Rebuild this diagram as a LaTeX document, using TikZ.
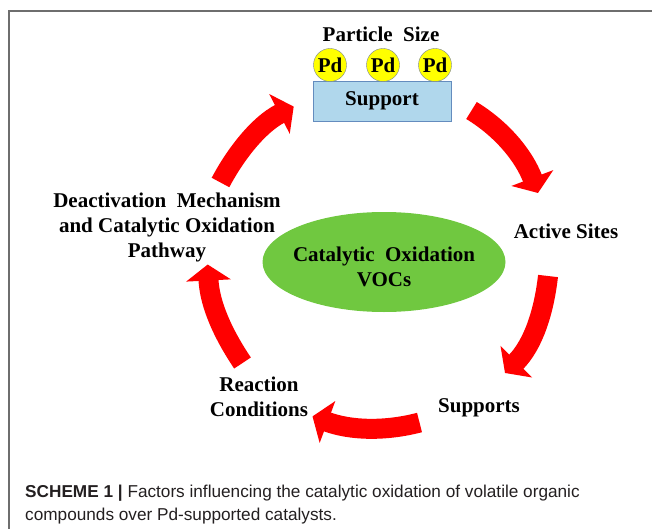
\documentclass[tikz,border=0pt]{standalone}
\usepackage{fontspec}
\setmainfont{Liberation Serif}
\newfontfamily\capfont{Liberation Sans}
\usetikzlibrary{arrows.meta,shapes.geometric}

\definecolor{framegray}{RGB}{110,110,110}
\definecolor{pdyellow}{RGB}{255,255,0}
\definecolor{pdedge}{RGB}{120,130,150}
\definecolor{supblue}{RGB}{176,215,236}
\definecolor{supedge}{RGB}{100,140,190}
\definecolor{vocgreen}{RGB}{112,200,64}
\definecolor{captext}{RGB}{35,31,32}

\tikzset{
  lbl/.style={font=\fontsize{21}{25}\selectfont\bfseries, align=center, inner sep=0pt},
  pdball/.style={circle, draw=pdedge, fill=pdyellow, minimum size=33pt, inner sep=0pt,
    font=\fontsize{21}{25}\selectfont\bfseries},
  cyc/.style={red, line width=20pt, -{Triangle[width=44pt,length=16pt]}},
}

\begin{document}
\begin{tikzpicture}[x=1pt,y=1pt,yscale=-1]
\useasboundingbox (0,0) rectangle (652,529);

% frame
\draw[framegray, line width=1.5pt] (652,11) -- (9,11) -- (9,529);

% support with Pd particles
\node[lbl] (psize) at (381,34) {Particle\ \ Size};
\node[draw=supedge, fill=supblue, minimum width=138pt, minimum height=40pt, lbl] (supp) at (382,101) {Support};
\node[pdball] (pd1) at (330,65) {Pd};
\node[pdball] (pd2) at (383,65) {Pd};
\node[pdball] (pd3) at (435,65) {Pd};

% centre
\node[ellipse, fill=vocgreen, minimum width=243pt, minimum height=100pt] (voc) at (384,262) {};
\node[lbl] (voct) at (384,267) {Catalytic\ \ Oxidation\\VOCs};

% factors
\node[lbl] (act) at (566,231) {Active Sites};
\node[lbl] (spts) at (479,408) {Supports};
\node[lbl] (reac) at (259,397) {Reaction\\Conditions};
\node[lbl] (deact) at (167,227) {Deactivation\ \ Mechanism\\and Catalytic Oxidation\\Pathway};

% cycle arrows
\coordinate (a1s) at (220.5,182.5); \coordinate (a1e) at (293.7,106.6);
\coordinate (a2s) at (471.5,110.5); \coordinate (a2e) at (538,193);
\coordinate (a3s) at (548,276);     \coordinate (a3e) at (505,373);
\coordinate (a4s) at (419.5,422.5); \coordinate (a4e) at (312.5,416.4);
\coordinate (a5s) at (242.5,363);   \coordinate (a5e) at (207.7,264.5);
\draw[cyc] (a1s) .. controls (235,155) and (258,125) .. (a1e);
\draw[cyc] (a2s) .. controls (502,129) and (524,156) .. (a2e);
\draw[cyc] (a3s) .. controls (544,312) and (533,345) .. (a3e);
\draw[cyc] (a4s) .. controls (384.5,431.7) and (350,430.4) .. (a4e);
\draw[cyc] (a5s) .. controls (223,334) and (209.7,304.5) .. (a5e);

% caption
\node[anchor=base west, inner sep=0pt, align=left, text=captext, font=\capfont\fontsize{17.2}{23}\selectfont] (capt) at (25,520)
  {\textbf{SCHEME 1 |} Factors influencing the catalytic oxidation of volatile organic\\compounds over Pd-supported catalysts.};
\end{tikzpicture}
\end{document}
